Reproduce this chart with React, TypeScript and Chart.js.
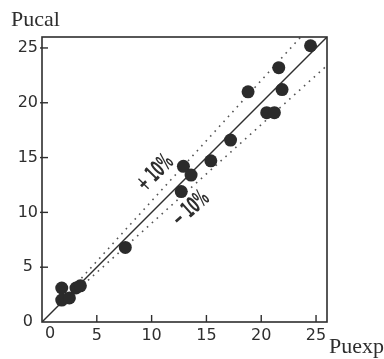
import React, { useEffect, useRef } from "react";
import { Chart, registerables } from "chart.js";

Chart.register(...registerables);

const pointX = [1.8, 1.8, 2.5, 3.1, 3.5, 7.6, 12.7, 12.9, 13.6, 15.4, 17.2, 18.8, 20.5, 21.2, 21.6, 21.9, 24.5];
const pointY = [3.1, 2.0, 2.2, 3.1, 3.3, 6.8, 11.9, 14.2, 13.4, 14.7, 16.6, 21.0, 19.1, 19.1, 23.2, 21.2, 25.2];
const equalX = [0, 26];
const equalY = [0, 26];
const plusX = [3.6, 23.6];
const plusY = [4.0, 26];
const minusX = [4.2, 26];
const minusY = [3.8, 23.4];
const tickValues = [0, 5, 10, 15, 20, 25];
const axisMax = 26;
const yTitle = "Pucal";
const xTitle = "Puexp";
const plusLabel = "+ 10%";
const minusLabel = "\u2212 10%";

const INK = "#2e2e2e";

const decorPlugin = {
  id: "decor",
  afterDraw(chart: any) {
    const ctx = chart.ctx;
    const a = chart.chartArea;
    const xs = chart.scales.x;
    const ys = chart.scales.y;
    ctx.save();
    // frame
    ctx.strokeStyle = INK;
    ctx.lineWidth = 1.6;
    ctx.strokeRect(a.left, a.top, a.right - a.left, a.bottom - a.top);
    // inward tick marks
    ctx.lineWidth = 1.4;
    tickValues.forEach((v) => {
      if (v === 0) return;
      const py = ys.getPixelForValue(v);
      ctx.beginPath();
      ctx.moveTo(a.left - 2, py);
      ctx.lineTo(a.left + 6, py);
      ctx.stroke();
      const px = xs.getPixelForValue(v);
      ctx.beginPath();
      ctx.moveTo(px, a.bottom);
      ctx.lineTo(px, a.bottom - 7);
      ctx.stroke();
    });
    // x "0" label offset to the right
    ctx.fillStyle = INK;
    ctx.font = "16px 'DejaVu Sans'";
    ctx.textAlign = "center";
    ctx.textBaseline = "top";
    ctx.fillText("0", a.left + 8, a.bottom + 4);
    // axis titles
    ctx.font = "22px 'Liberation Serif'";
    ctx.textAlign = "left";
    ctx.textBaseline = "alphabetic";
    ctx.fillText(yTitle, 11, 26);
    ctx.fillText(xTitle, 329, 353);
    // rotated band labels
    const drawRot = (text: string, cx: number, cy: number, ang: number) => {
      ctx.save();
      ctx.translate(cx, cy);
      ctx.rotate(ang);
      ctx.scale(0.5, 1);
      ctx.font = "bold 23px 'DejaVu Sans'";
      ctx.textAlign = "center";
      ctx.textBaseline = "middle";
      ctx.fillText(text, 0, 0);
      ctx.restore();
    };
    drawRot(plusLabel, 155.5, 173.5, -Math.PI / 4);
    drawRot(minusLabel, 191, 209.5, (-42 * Math.PI) / 180);
    ctx.restore();
  },
};

export default function App() {
  const ref = useRef<HTMLCanvasElement>(null);
  useEffect(() => {
    if (!ref.current) return;
    const toPts = (xs: number[], ys: number[]) => xs.map((x, i) => ({ x, y: ys[i] }));
    const chart = new Chart(ref.current, {
      type: "scatter",
      data: {
        datasets: [
          {
            data: toPts(pointX, pointY),
            pointRadius: 6.5,
            pointBackgroundColor: "#2b2b2b",
            pointBorderColor: "#2b2b2b",
            pointBorderWidth: 0,
            showLine: false,
            order: 0,
          },
          {
            data: toPts(equalX, equalY),
            showLine: true,
            pointRadius: 0,
            borderColor: INK,
            borderWidth: 1.4,
            order: 1,
          },
          {
            data: toPts(plusX, plusY),
            showLine: true,
            pointRadius: 0,
            borderColor: "#555",
            borderWidth: 1.6,
            borderDash: [1.6, 5],
            order: 2,
          },
          {
            data: toPts(minusX, minusY),
            showLine: true,
            pointRadius: 0,
            borderColor: "#555",
            borderWidth: 1.6,
            borderDash: [1.6, 5],
            order: 3,
          },
        ],
      },
      options: {
        animation: false,
        responsive: false,
        events: [],
        layout: { padding: { left: 0, top: 37, right: 57, bottom: 0 } },
        plugins: { legend: { display: false }, tooltip: { enabled: false } },
        scales: {
          x: {
            type: "linear",
            min: 0,
            max: axisMax,
            afterFit: (s: any) => {
              s.height = 37;
            },
            afterBuildTicks: (s: any) => {
              s.ticks = tickValues.map((v) => ({ value: v }));
            },
            grid: { display: false, drawTicks: false },
            border: { display: false },
            ticks: {
              padding: 4,
              color: INK,
              font: { family: "'DejaVu Sans'", size: 16 },
              maxRotation: 0,
              callback: (v: any) => (v === 0 ? "" : String(v)),
            },
          },
          y: {
            type: "linear",
            min: 0,
            max: axisMax,
            afterFit: (s: any) => {
              s.width = 42;
            },
            afterBuildTicks: (s: any) => {
              s.ticks = tickValues.map((v) => ({ value: v }));
            },
            grid: { display: false, drawTicks: false },
            border: { display: false },
            ticks: {
              padding: 4,
              crossAlign: "center",
              color: INK,
              font: { family: "'DejaVu Sans'", size: 16 },
              callback: (v: any) => String(v),
            },
          },
        },
      },
      plugins: [decorPlugin],
    } as any);
    return () => chart.destroy();
  }, []);
  return (
    <div style={{ position: "fixed", left: 0, top: 0, width: 384, height: 359, background: "#fff" }}>
      <canvas ref={ref} width={384} height={359} style={{ width: 384, height: 359 }} />
    </div>
  );
}
